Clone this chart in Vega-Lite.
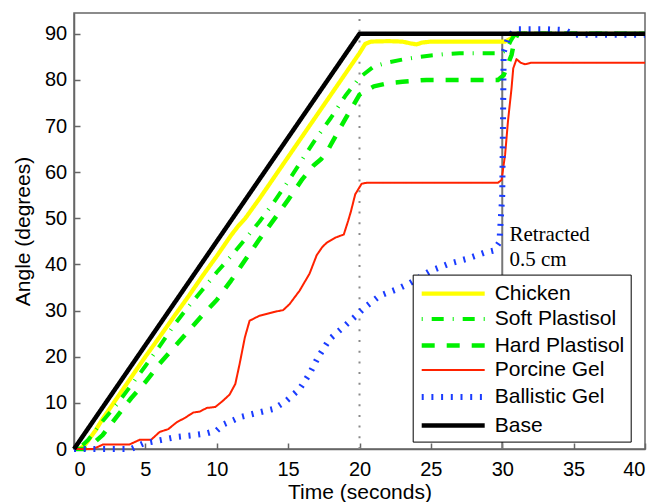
{
  "$schema": "https://vega.github.io/schema/vega-lite/v6.json",
  "width": 571,
  "height": 436,
  "autosize": {"type": "none"},
  "padding": {"left": 74, "top": 13, "right": 14, "bottom": 53},
  "background": "white",
  "config": {
    "view": {"stroke": "#666666", "strokeWidth": 1.5},
    "font": "Liberation Sans",
    "axis": {
      "grid": false,
      "domainColor": "#666666",
      "domainWidth": 1.5,
      "tickColor": "#666666",
      "tickWidth": 1.5,
      "tickSize": -6,
      "labelFont": "Liberation Sans",
      "labelFontSize": 20,
      "labelColor": "#000000",
      "titleFont": "Liberation Sans",
      "titleFontSize": 21,
      "titleFontWeight": "normal",
      "titleColor": "#000000"
    }
  },
  "encoding": {
    "x": {"field": "t", "type": "quantitative", "scale": {"domain": [0, 40], "nice": false},
          "axis": {"title": "Time (seconds)", "values": [0, 5, 10, 15, 20, 25, 30, 35, 40], "labelPadding": 16, "titleY": 49.5, "titleBaseline": "alphabetic"}},
    "y": {"field": "v", "type": "quantitative", "scale": {"domain": [0, 94.5], "nice": false},
          "axis": {"title": "Angle (degrees)", "values": [0, 10, 20, 30, 40, 50, 60, 70, 80, 90], "labelPadding": 13.3, "titleX": -45, "titleBaseline": "alphabetic"}}
  },
  "layer": [
    {
      "data": {"values": [{"t": 20, "v": 0, "v2": 94.5}]},
      "mark": {"type": "rule", "color": "#8a8a8a", "strokeWidth": 2, "strokeDash": [2, 8.7]},
      "encoding": {"y2": {"field": "v2"}}
    },
    {
      "data": {"values": [{"t": 30, "v": 0, "v2": 90}]},
      "mark": {"type": "rule", "color": "#777777", "strokeWidth": 2},
      "encoding": {"y2": {"field": "v2"}}
    },
    {
      "data": {"values": [
        {"s": "Chicken", "t": 0, "v": 0}, {"s": "Chicken", "t": 0.4, "v": 0}, {"s": "Chicken", "t": 0.8, "v": 1}, {"s": "Chicken", "t": 1.5, "v": 4}, {"s": "Chicken", "t": 2, "v": 6.5}, {"s": "Chicken", "t": 3, "v": 11}, {"s": "Chicken", "t": 4, "v": 15.5}, {"s": "Chicken", "t": 5, "v": 20}, {"s": "Chicken", "t": 6, "v": 24.3}, {"s": "Chicken", "t": 7, "v": 28.7}, {"s": "Chicken", "t": 8, "v": 33}, {"s": "Chicken", "t": 9, "v": 37.5}, {"s": "Chicken", "t": 10, "v": 41.8}, {"s": "Chicken", "t": 11, "v": 46.3}, {"s": "Chicken", "t": 11.5, "v": 48.3}, {"s": "Chicken", "t": 12, "v": 50}, {"s": "Chicken", "t": 13, "v": 54.3}, {"s": "Chicken", "t": 14, "v": 58.8}, {"s": "Chicken", "t": 15, "v": 63.3}, {"s": "Chicken", "t": 16, "v": 67.8}, {"s": "Chicken", "t": 17, "v": 72.3}, {"s": "Chicken", "t": 18, "v": 76.8}, {"s": "Chicken", "t": 19, "v": 81.3}, {"s": "Chicken", "t": 20, "v": 85.8}, {"s": "Chicken", "t": 20.4, "v": 87.8}, {"s": "Chicken", "t": 20.8, "v": 88.3}, {"s": "Chicken", "t": 22, "v": 88.4}, {"s": "Chicken", "t": 23, "v": 88.3}, {"s": "Chicken", "t": 23.6, "v": 87.9}, {"s": "Chicken", "t": 24, "v": 87.7}, {"s": "Chicken", "t": 24.4, "v": 88.1}, {"s": "Chicken", "t": 25, "v": 88.3}, {"s": "Chicken", "t": 30.2, "v": 88.3}, {"s": "Chicken", "t": 30.6, "v": 89}, {"s": "Chicken", "t": 31, "v": 90}, {"s": "Chicken", "t": 40, "v": 90},
        {"s": "Soft Plastisol", "t": 0, "v": 0}, {"s": "Soft Plastisol", "t": 0.3, "v": 0}, {"s": "Soft Plastisol", "t": 1, "v": 2}, {"s": "Soft Plastisol", "t": 2, "v": 6}, {"s": "Soft Plastisol", "t": 3, "v": 9.7}, {"s": "Soft Plastisol", "t": 4, "v": 13.8}, {"s": "Soft Plastisol", "t": 5, "v": 18}, {"s": "Soft Plastisol", "t": 6, "v": 22.3}, {"s": "Soft Plastisol", "t": 7, "v": 26.8}, {"s": "Soft Plastisol", "t": 8, "v": 30.8}, {"s": "Soft Plastisol", "t": 9, "v": 34.5}, {"s": "Soft Plastisol", "t": 10, "v": 38.3}, {"s": "Soft Plastisol", "t": 11, "v": 41.8}, {"s": "Soft Plastisol", "t": 12, "v": 45.5}, {"s": "Soft Plastisol", "t": 13, "v": 49.3}, {"s": "Soft Plastisol", "t": 14, "v": 53.5}, {"s": "Soft Plastisol", "t": 15, "v": 58}, {"s": "Soft Plastisol", "t": 16, "v": 62.8}, {"s": "Soft Plastisol", "t": 17, "v": 67.5}, {"s": "Soft Plastisol", "t": 18, "v": 71.8}, {"s": "Soft Plastisol", "t": 19, "v": 76.5}, {"s": "Soft Plastisol", "t": 20, "v": 80.5}, {"s": "Soft Plastisol", "t": 21, "v": 82.9}, {"s": "Soft Plastisol", "t": 22, "v": 83.8}, {"s": "Soft Plastisol", "t": 23, "v": 84.4}, {"s": "Soft Plastisol", "t": 24, "v": 84.9}, {"s": "Soft Plastisol", "t": 25, "v": 85.3}, {"s": "Soft Plastisol", "t": 26, "v": 85.6}, {"s": "Soft Plastisol", "t": 27, "v": 85.8}, {"s": "Soft Plastisol", "t": 29.9, "v": 85.8}, {"s": "Soft Plastisol", "t": 30.3, "v": 86.5}, {"s": "Soft Plastisol", "t": 30.6, "v": 88.5}, {"s": "Soft Plastisol", "t": 30.9, "v": 90}, {"s": "Soft Plastisol", "t": 40, "v": 90},
        {"s": "Hard Plastisol", "t": 0, "v": 0}, {"s": "Hard Plastisol", "t": 0.7, "v": 0}, {"s": "Hard Plastisol", "t": 1.2, "v": 0.8}, {"s": "Hard Plastisol", "t": 2, "v": 3}, {"s": "Hard Plastisol", "t": 3, "v": 7}, {"s": "Hard Plastisol", "t": 4, "v": 11}, {"s": "Hard Plastisol", "t": 5, "v": 14.5}, {"s": "Hard Plastisol", "t": 6, "v": 18.5}, {"s": "Hard Plastisol", "t": 7, "v": 22}, {"s": "Hard Plastisol", "t": 8, "v": 25.5}, {"s": "Hard Plastisol", "t": 9, "v": 29}, {"s": "Hard Plastisol", "t": 10, "v": 32.3}, {"s": "Hard Plastisol", "t": 11, "v": 36.5}, {"s": "Hard Plastisol", "t": 12, "v": 41}, {"s": "Hard Plastisol", "t": 13, "v": 45.5}, {"s": "Hard Plastisol", "t": 14, "v": 49.7}, {"s": "Hard Plastisol", "t": 15, "v": 54}, {"s": "Hard Plastisol", "t": 16, "v": 58.5}, {"s": "Hard Plastisol", "t": 16.8, "v": 61.5}, {"s": "Hard Plastisol", "t": 17.3, "v": 62.8}, {"s": "Hard Plastisol", "t": 17.7, "v": 64.3}, {"s": "Hard Plastisol", "t": 18, "v": 66}, {"s": "Hard Plastisol", "t": 19, "v": 71.5}, {"s": "Hard Plastisol", "t": 20, "v": 76.8}, {"s": "Hard Plastisol", "t": 21, "v": 78.6}, {"s": "Hard Plastisol", "t": 22, "v": 79.3}, {"s": "Hard Plastisol", "t": 23, "v": 79.6}, {"s": "Hard Plastisol", "t": 24.7, "v": 80}, {"s": "Hard Plastisol", "t": 29.7, "v": 80}, {"s": "Hard Plastisol", "t": 30.1, "v": 81}, {"s": "Hard Plastisol", "t": 30.65, "v": 85.4}, {"s": "Hard Plastisol", "t": 30.85, "v": 88.5}, {"s": "Hard Plastisol", "t": 31.1, "v": 90}, {"s": "Hard Plastisol", "t": 40, "v": 90},
        {"s": "Porcine Gel", "t": 0, "v": 0}, {"s": "Porcine Gel", "t": 1.35, "v": 0}, {"s": "Porcine Gel", "t": 2.05, "v": 1}, {"s": "Porcine Gel", "t": 3.9, "v": 1}, {"s": "Porcine Gel", "t": 4.6, "v": 2}, {"s": "Porcine Gel", "t": 5.4, "v": 2}, {"s": "Porcine Gel", "t": 6, "v": 3.7}, {"s": "Porcine Gel", "t": 6.6, "v": 4.3}, {"s": "Porcine Gel", "t": 7.2, "v": 5.8}, {"s": "Porcine Gel", "t": 7.8, "v": 6.8}, {"s": "Porcine Gel", "t": 8.35, "v": 7.9}, {"s": "Porcine Gel", "t": 8.8, "v": 8.1}, {"s": "Porcine Gel", "t": 9.3, "v": 8.9}, {"s": "Porcine Gel", "t": 9.9, "v": 9.1}, {"s": "Porcine Gel", "t": 10.45, "v": 10.5}, {"s": "Porcine Gel", "t": 10.9, "v": 11.8}, {"s": "Porcine Gel", "t": 11.3, "v": 14.1}, {"s": "Porcine Gel", "t": 11.6, "v": 18.4}, {"s": "Porcine Gel", "t": 11.97, "v": 24.2}, {"s": "Porcine Gel", "t": 12.3, "v": 27.8}, {"s": "Porcine Gel", "t": 13, "v": 28.9}, {"s": "Porcine Gel", "t": 14, "v": 29.7}, {"s": "Porcine Gel", "t": 14.65, "v": 30.1}, {"s": "Porcine Gel", "t": 15.1, "v": 31.4}, {"s": "Porcine Gel", "t": 15.8, "v": 34.3}, {"s": "Porcine Gel", "t": 16.5, "v": 38}, {"s": "Porcine Gel", "t": 17, "v": 42}, {"s": "Porcine Gel", "t": 17.4, "v": 43.8}, {"s": "Porcine Gel", "t": 17.7, "v": 44.7}, {"s": "Porcine Gel", "t": 18.3, "v": 45.8}, {"s": "Porcine Gel", "t": 18.9, "v": 46.5}, {"s": "Porcine Gel", "t": 19.2, "v": 49.4}, {"s": "Porcine Gel", "t": 19.4, "v": 51.5}, {"s": "Porcine Gel", "t": 19.7, "v": 55.2}, {"s": "Porcine Gel", "t": 20.15, "v": 57.5}, {"s": "Porcine Gel", "t": 20.5, "v": 57.7}, {"s": "Porcine Gel", "t": 29.7, "v": 57.7}, {"s": "Porcine Gel", "t": 29.95, "v": 58.3}, {"s": "Porcine Gel", "t": 30.2, "v": 63.8}, {"s": "Porcine Gel", "t": 30.4, "v": 71}, {"s": "Porcine Gel", "t": 30.65, "v": 78.2}, {"s": "Porcine Gel", "t": 30.77, "v": 82.5}, {"s": "Porcine Gel", "t": 31, "v": 84.5}, {"s": "Porcine Gel", "t": 31.3, "v": 83.7}, {"s": "Porcine Gel", "t": 31.6, "v": 83.4}, {"s": "Porcine Gel", "t": 32, "v": 83.7}, {"s": "Porcine Gel", "t": 40, "v": 83.7},
        {"s": "Ballistic Gel", "t": 0, "v": 0}, {"s": "Ballistic Gel", "t": 4, "v": 0}, {"s": "Ballistic Gel", "t": 4.85, "v": 1.2}, {"s": "Ballistic Gel", "t": 6, "v": 1.9}, {"s": "Ballistic Gel", "t": 7.2, "v": 2.6}, {"s": "Ballistic Gel", "t": 8.35, "v": 3}, {"s": "Ballistic Gel", "t": 9.3, "v": 3.4}, {"s": "Ballistic Gel", "t": 10, "v": 4}, {"s": "Ballistic Gel", "t": 10.45, "v": 5.3}, {"s": "Ballistic Gel", "t": 11.2, "v": 6.3}, {"s": "Ballistic Gel", "t": 11.6, "v": 6.9}, {"s": "Ballistic Gel", "t": 12.8, "v": 7.8}, {"s": "Ballistic Gel", "t": 14, "v": 8.7}, {"s": "Ballistic Gel", "t": 14.9, "v": 10.5}, {"s": "Ballistic Gel", "t": 15.8, "v": 13}, {"s": "Ballistic Gel", "t": 16.5, "v": 16.3}, {"s": "Ballistic Gel", "t": 17.1, "v": 19.9}, {"s": "Ballistic Gel", "t": 17.9, "v": 23.8}, {"s": "Ballistic Gel", "t": 18.9, "v": 26.5}, {"s": "Ballistic Gel", "t": 19.8, "v": 29}, {"s": "Ballistic Gel", "t": 20.3, "v": 30.5}, {"s": "Ballistic Gel", "t": 21.4, "v": 33.2}, {"s": "Ballistic Gel", "t": 22.6, "v": 34.6}, {"s": "Ballistic Gel", "t": 23.5, "v": 35.9}, {"s": "Ballistic Gel", "t": 24.9, "v": 38.5}, {"s": "Ballistic Gel", "t": 26.3, "v": 40.2}, {"s": "Ballistic Gel", "t": 27.5, "v": 41.2}, {"s": "Ballistic Gel", "t": 28.7, "v": 42.5}, {"s": "Ballistic Gel", "t": 29.4, "v": 43}, {"s": "Ballistic Gel", "t": 29.8, "v": 44.8}, {"s": "Ballistic Gel", "t": 30, "v": 55}, {"s": "Ballistic Gel", "t": 30.05, "v": 70}, {"s": "Ballistic Gel", "t": 30.1, "v": 86}, {"s": "Ballistic Gel", "t": 30.4, "v": 89}, {"s": "Ballistic Gel", "t": 30.9, "v": 91}, {"s": "Ballistic Gel", "t": 33, "v": 91}, {"s": "Ballistic Gel", "t": 34.4, "v": 90.8}, {"s": "Ballistic Gel", "t": 35, "v": 89.8}, {"s": "Ballistic Gel", "t": 40, "v": 89.8},
        {"s": "Base", "t": 0, "v": 0}, {"s": "Base", "t": 20, "v": 90}, {"s": "Base", "t": 40, "v": 90}
      ]},
      "mark": {"type": "line", "strokeCap": "butt", "strokeJoin": "round"},
      "encoding": {
        "color": {"field": "s", "type": "nominal",
          "scale": {"domain": ["Chicken", "Soft Plastisol", "Hard Plastisol", "Porcine Gel", "Ballistic Gel", "Base"],
                    "range": ["#ffff00", "#00f000", "#00f000", "#ff2200", "#1a3cff", "#000000"]},
          "legend": {"title": null, "orient": "none", "legendX": 338.7, "legendY": 261.6, "symbolType": "M-3,0H3", "symbolSize": 441,
                     "labelFont": "Liberation Sans", "labelFontSize": 21, "labelColor": "#000000", "labelOffset": 28,
                     "strokeColor": "#000000", "fillColor": "#ffffff", "padding": 6, "symbolOffset": 21, "rowPadding": 3, "cornerRadius": 0}},
        "strokeDash": {"field": "s", "type": "nominal",
          "scale": {"domain": ["Chicken", "Soft Plastisol", "Hard Plastisol", "Porcine Gel", "Ballistic Gel", "Base"],
                    "range": [[1, 0], [1, 9, 12, 9], [13, 12], [1, 0], [2, 7.7], [1, 0]]}},
        "strokeWidth": {"field": "s", "type": "nominal",
          "scale": {"type": "ordinal", "domain": ["Chicken", "Soft Plastisol", "Hard Plastisol", "Porcine Gel", "Ballistic Gel", "Base"],
                    "range": [4.2, 4, 4.5, 2, 6, 4.5]}}
      }
    },
    {
      "data": {"values": [{"t": 30.5, "v": 45.05, "label": "Retracted"}, {"t": 30.5, "v": 39.7, "label": "0.5 cm"}]},
      "mark": {"type": "text", "align": "left", "baseline": "alphabetic", "font": "Liberation Serif", "fontSize": 21, "color": "#000000"},
      "encoding": {
        "text": {"field": "label", "type": "nominal"}
      }
    }
  ]
}
